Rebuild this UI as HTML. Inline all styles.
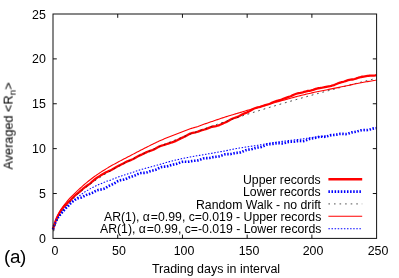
<!DOCTYPE html>
<html><head><meta charset="utf-8"><title>chart</title>
<style>
html,body{margin:0;padding:0;background:#fff}
body{width:399px;height:278px;position:relative;overflow:hidden;font-family:"Liberation Sans",sans-serif;color:#000}
.t{will-change:transform;position:absolute;white-space:nowrap;line-height:1;font-family:"Liberation Sans",sans-serif}
</style></head><body>
<svg width="399" height="278" viewBox="0 0 399 278" style="position:absolute;left:0;top:0">
<rect x="0" y="0" width="399" height="278" fill="#fff"/>
<path d="M53.00,229.42 L54.29,224.78 L55.59,221.09 L56.88,217.98 L58.18,215.36 L59.47,212.96 L60.77,210.76 L62.06,208.95 L63.36,207.38 L64.65,205.98 L65.94,204.67 L67.24,203.33 L68.53,201.89 L69.83,200.96 L71.12,199.53 L72.42,198.10 L73.71,196.75 L75.00,195.51 L76.30,194.39 L77.59,193.34 L78.89,192.30 L80.18,191.24 L81.48,190.13 L82.77,188.99 L84.07,187.90 L85.36,186.88 L86.65,185.95 L87.95,185.04 L89.24,184.10 L90.54,183.09 L91.83,181.99 L93.13,180.84 L94.42,179.72 L95.72,178.68 L97.01,177.75 L98.30,176.91 L99.60,176.13 L100.89,175.35 L102.19,174.54 L103.48,173.72 L104.78,172.95 L106.07,172.27 L107.36,171.69 L108.66,171.16 L109.95,170.63 L111.25,170.02 L112.54,169.32 L113.84,168.53 L115.13,167.72 L116.43,166.95 L117.72,166.24 L119.01,165.59 L120.31,164.98 L121.60,164.34 L122.90,163.65 L124.19,162.94 L125.49,162.24 L126.78,161.60 L128.08,161.05 L129.37,160.57 L130.66,160.09 L131.96,159.56 L133.25,158.93 L134.55,158.20 L135.84,157.42 L137.14,156.66 L138.43,155.98 L139.72,155.38 L141.02,154.82 L142.31,154.26 L143.61,153.65 L144.90,153.01 L146.20,152.37 L147.49,151.78 L148.79,151.29 L150.08,150.87 L151.37,150.44 L152.67,149.96 L153.96,149.39 L155.26,148.72 L156.55,147.99 L157.85,147.26 L159.14,146.59 L160.44,146.01 L161.73,145.61 L163.02,145.25 L164.32,144.88 L165.61,144.47 L166.91,144.02 L168.20,143.58 L169.50,143.17 L170.79,142.73 L172.08,142.33 L173.38,141.92 L174.67,141.43 L175.97,140.84 L177.26,140.19 L178.56,139.52 L179.85,138.87 L181.15,138.25 L182.44,137.65 L183.73,137.05 L185.03,136.40 L186.32,135.70 L187.62,134.96 L188.91,134.26 L190.21,133.66 L191.50,133.24 L192.80,132.93 L194.09,132.66 L195.38,132.37 L196.68,132.01 L197.97,131.58 L199.27,131.10 L200.56,130.64 L201.86,130.22 L203.15,129.86 L204.44,129.50 L205.74,129.10 L207.03,128.62 L208.33,128.10 L209.62,127.58 L210.92,127.12 L212.21,126.75 L213.51,126.49 L214.80,126.28 L216.09,126.05 L217.39,125.75 L218.68,125.35 L219.98,124.80 L221.27,124.20 L222.57,123.61 L223.86,123.05 L225.16,122.50 L226.45,121.91 L227.74,121.25 L229.04,120.53 L230.33,119.78 L231.63,119.07 L232.92,118.47 L234.22,118.01 L235.51,117.59 L236.80,117.14 L238.10,116.60 L239.39,115.97 L240.69,115.27 L241.98,114.57 L243.28,113.93 L244.57,113.41 L245.87,112.94 L247.16,112.41 L248.45,111.79 L249.75,111.07 L251.04,110.28 L252.34,109.50 L253.63,108.80 L254.93,108.24 L256.22,107.80 L257.52,107.47 L258.81,107.20 L260.10,106.86 L261.40,106.44 L262.69,105.98 L263.99,105.53 L265.28,105.12 L266.58,104.76 L267.87,104.39 L269.16,103.98 L270.46,103.48 L271.75,102.90 L273.05,102.30 L274.34,101.74 L275.64,101.28 L276.93,100.90 L278.23,100.57 L279.52,100.23 L280.81,99.83 L282.11,99.35 L283.40,98.81 L284.70,98.28 L285.99,97.79 L287.29,97.36 L288.58,96.95 L289.88,96.51 L291.17,96.01 L292.46,95.42 L293.76,94.80 L295.05,94.22 L296.35,93.75 L297.64,93.39 L298.94,93.11 L300.23,92.88 L301.52,92.62 L302.82,92.30 L304.11,91.94 L305.41,91.57 L306.70,91.25 L308.00,90.99 L309.29,90.76 L310.59,90.52 L311.88,90.20 L313.17,89.82 L314.47,89.37 L315.76,88.92 L317.06,88.53 L318.35,88.24 L319.65,88.04 L320.94,87.88 L322.24,87.71 L323.53,87.48 L324.82,87.19 L326.12,86.87 L327.41,86.56 L328.71,86.30 L330.00,86.07 L331.30,85.80 L332.59,85.48 L333.88,85.06 L335.18,84.54 L336.47,83.99 L337.77,83.45 L339.06,82.97 L340.36,82.56 L341.65,82.21 L342.95,81.87 L344.24,81.49 L345.53,81.06 L346.83,80.62 L348.12,80.21 L349.42,79.89 L350.71,79.67 L352.01,79.49 L353.30,79.29 L354.60,79.00 L355.89,78.62 L357.18,78.17 L358.48,77.71 L359.77,77.31 L361.07,77.00 L362.36,76.75 L363.66,76.53 L364.95,76.35 L366.24,76.15 L367.54,75.95 L368.83,75.77 L370.13,75.66 L371.42,75.61 L372.72,75.60 L374.01,75.56 L375.31,75.41 L376.60,75.11" fill="none" stroke="#f00" stroke-width="2.3" stroke-linejoin="round"/>
<path d="M53.00,229.42 L54.29,225.14 L55.59,222.07 L56.88,219.48 L58.18,217.34 L59.47,215.52 L60.77,213.93 L62.06,212.47 L63.36,211.04 L64.65,209.55 L65.94,208.15 L67.24,206.84 L68.53,205.58 L69.83,203.99 L71.12,202.80 L72.42,201.76 L73.71,200.82 L75.00,199.84 L76.30,198.95 L77.59,198.37 L78.89,198.04 L80.18,197.81 L81.48,197.51 L82.77,197.00 L84.07,196.23 L85.36,195.48 L86.65,194.86 L87.95,194.39 L89.24,194.03 L90.54,193.64 L91.83,193.07 L93.13,192.40 L94.42,191.68 L95.72,190.97 L97.01,190.37 L98.30,189.94 L99.60,189.69 L100.89,189.53 L102.19,189.32 L103.48,188.95 L104.78,188.38 L106.07,187.63 L107.36,186.79 L108.66,186.03 L109.95,185.37 L111.25,184.79 L112.54,184.21 L113.84,183.54 L115.13,182.78 L116.43,181.97 L117.72,181.22 L119.01,180.64 L120.31,180.25 L121.60,180.00 L122.90,179.80 L124.19,179.51 L125.49,179.07 L126.78,178.50 L128.08,177.87 L129.37,177.30 L130.66,176.83 L131.96,176.45 L133.25,176.08 L134.55,175.63 L135.84,175.06 L137.14,174.43 L138.43,173.82 L139.72,173.34 L141.02,173.06 L142.31,172.95 L143.61,172.91 L144.90,172.83 L146.20,172.60 L147.49,172.23 L148.79,171.76 L150.08,171.29 L151.37,170.89 L152.67,170.58 L153.96,170.28 L155.26,169.90 L156.55,169.38 L157.85,168.73 L159.14,168.03 L160.44,167.40 L161.73,166.96 L163.02,166.74 L164.32,166.66 L165.61,166.60 L166.91,166.44 L168.20,166.12 L169.50,165.67 L170.79,165.19 L172.08,164.79 L173.38,164.51 L174.67,164.29 L175.97,164.04 L177.26,163.69 L178.56,163.21 L179.85,162.66 L181.15,162.16 L182.44,161.81 L183.73,161.66 L185.03,161.68 L186.32,161.75 L187.62,161.76 L188.91,161.64 L190.21,161.41 L191.50,161.14 L192.80,160.91 L194.09,160.77 L195.38,160.69 L196.68,160.60 L197.97,160.38 L199.27,160.00 L200.56,159.49 L201.86,158.96 L203.15,158.52 L204.44,158.26 L205.74,158.16 L207.03,158.15 L208.33,158.11 L209.62,157.97 L210.92,157.71 L212.21,157.38 L213.51,157.09 L214.80,156.88 L216.09,156.77 L217.39,156.68 L218.68,156.50 L219.98,156.16 L221.27,155.68 L222.57,155.14 L223.86,154.65 L225.16,154.32 L226.45,154.17 L227.74,154.15 L229.04,154.16 L230.33,154.09 L231.63,153.84 L232.92,153.53 L234.22,153.22 L235.51,153.00 L236.80,152.88 L238.10,152.80 L239.39,152.66 L240.69,152.36 L241.98,151.89 L243.28,151.29 L244.57,150.68 L245.87,150.17 L247.16,149.83 L248.45,149.64 L249.75,149.49 L251.04,149.28 L252.34,148.97 L253.63,148.57 L254.93,148.16 L256.22,147.81 L257.52,147.58 L258.81,147.42 L260.10,147.25 L261.40,146.96 L262.69,146.49 L263.99,145.88 L265.28,145.26 L266.58,144.73 L267.87,144.37 L269.16,144.18 L270.46,144.10 L271.75,144.02 L273.05,143.87 L274.34,143.64 L275.64,143.41 L276.93,143.24 L278.23,143.21 L279.52,143.29 L280.81,143.41 L282.11,143.45 L283.40,143.32 L284.70,143.01 L285.99,142.60 L287.29,142.21 L288.58,141.94 L289.88,141.83 L291.17,141.82 L292.46,141.82 L293.76,141.74 L295.05,141.56 L296.35,141.33 L297.64,141.12 L298.94,141.02 L300.23,141.03 L301.52,141.10 L302.82,141.11 L304.11,140.95 L305.41,140.60 L306.70,140.09 L308.00,139.54 L309.29,139.06 L310.59,138.69 L311.88,138.46 L313.17,138.27 L314.47,138.04 L315.76,137.73 L317.06,137.37 L318.35,137.03 L319.65,136.80 L320.94,136.74 L322.24,136.79 L323.53,136.86 L324.82,136.82 L326.12,136.60 L327.41,136.23 L328.71,135.78 L330.00,135.38 L331.30,135.11 L332.59,134.97 L333.88,134.90 L335.18,134.80 L336.47,134.62 L337.77,134.35 L339.06,134.08 L340.36,133.88 L341.65,133.83 L342.95,133.92 L344.24,134.05 L345.53,134.10 L346.83,133.98 L348.12,133.66 L349.42,133.21 L350.71,132.75 L352.01,132.37 L353.30,132.11 L354.60,131.92 L355.89,131.72 L357.18,131.43 L358.48,131.05 L359.77,130.63 L361.07,130.28 L362.36,130.07 L363.66,130.02 L364.95,130.09 L366.24,130.13 L367.54,130.06 L368.83,129.81 L370.13,129.42 L371.42,128.98 L372.72,128.62 L374.01,128.37 L375.31,128.22 L376.60,128.09" fill="none" stroke="#00f" stroke-width="2.6" stroke-dasharray="1.5 1.6"/>
<path d="M53.65,231.24 L54.29,228.27 L54.94,226.00 L55.59,224.08 L56.24,222.39 L56.88,220.86 L57.53,219.45 L58.18,218.14 L58.82,216.91 L59.47,215.75 L60.12,214.65 L60.77,213.59 L61.41,212.58 L62.06,211.60 L62.71,210.66 L63.36,209.75 L64.00,208.87 L64.65,208.02 L65.30,207.18 L65.94,206.37 L66.59,205.58 L67.24,204.81 L67.89,204.05 L68.53,203.31 L69.18,202.59 L69.83,201.88 L70.47,201.19 L71.12,200.50 L71.77,199.83 L72.42,199.17 L73.06,198.52 L73.71,197.89 L74.36,197.26 L75.00,196.64 L75.65,196.03 L76.30,195.43 L76.95,194.84 L77.59,194.25 L78.24,193.67 L78.89,193.10 L79.54,192.54 L80.18,191.99 L80.83,191.44 L81.48,190.89 L82.12,190.36 L82.77,189.83 L83.42,189.30 L84.07,188.78 L84.71,188.27 L85.36,187.76 L86.01,187.25 L86.65,186.76 L87.30,186.26 L87.95,185.77 L88.60,185.29 L89.24,184.81 L89.89,184.33 L90.54,183.86 L91.18,183.39 L91.83,182.92 L92.48,182.46 L93.13,182.01 L93.77,181.55 L94.42,181.11 L95.07,180.66 L95.72,180.22 L96.36,179.78 L97.01,179.34 L97.66,178.91 L98.30,178.48 L98.95,178.05 L99.60,177.63 L100.25,177.21 L100.89,176.79 L101.54,176.38 L102.19,175.96 L102.83,175.56 L103.48,175.15 L104.13,174.74 L104.78,174.34 L105.42,173.94 L106.07,173.55 L106.72,173.15 L107.36,172.76 L108.01,172.37 L108.66,171.98 L109.31,171.60 L109.95,171.22 L110.60,170.84 L111.25,170.46 L111.90,170.08 L112.54,169.71 L113.19,169.33 L113.84,168.96 L114.48,168.60 L115.13,168.23 L115.78,167.86 L116.43,167.50 L117.07,167.14 L117.72,166.78 L118.37,166.42 L119.01,166.07 L119.66,165.72 L120.31,165.36 L120.96,165.01 L121.60,164.66 L122.25,164.32 L122.90,163.97 L123.54,163.63 L124.19,163.29 L124.84,162.95 L125.49,162.61 L126.13,162.27 L126.78,161.93 L127.43,161.60 L128.08,161.26 L128.72,160.93 L129.37,160.60 L130.02,160.27 L130.66,159.95 L131.31,159.62 L131.96,159.30 L132.61,158.97 L133.25,158.65 L133.90,158.33 L134.55,158.01 L135.19,157.69 L135.84,157.37 L136.49,157.06 L137.14,156.74 L137.78,156.43 L138.43,156.12 L139.08,155.81 L139.72,155.50 L140.37,155.19 L141.02,154.88 L141.67,154.57 L142.31,154.27 L142.96,153.96 L143.61,153.66 L144.26,153.36 L144.90,153.06 L145.55,152.76 L146.20,152.46 L146.84,152.16 L147.49,151.86 L148.14,151.57 L148.79,151.27 L149.43,150.98 L150.08,150.69 L150.73,150.39 L151.37,150.10 L152.02,149.81 L152.67,149.52 L153.32,149.24 L153.96,148.95 L154.61,148.66 L155.26,148.38 L155.90,148.09 L156.55,147.81 L157.20,147.53 L157.85,147.25 L158.49,146.96 L159.14,146.68 L159.79,146.40 L160.44,146.13 L161.08,145.85 L161.73,145.57 L162.38,145.30 L163.02,145.02 L163.67,144.75 L164.32,144.47 L164.97,144.20 L165.61,143.93 L166.26,143.66 L166.91,143.39 L167.55,143.12 L168.20,142.85 L168.85,142.58 L169.50,142.31 L170.14,142.05 L170.79,141.78 L171.44,141.52 L172.08,141.25 L172.73,140.99 L173.38,140.73 L174.03,140.46 L174.67,140.20 L175.32,139.94 L175.97,139.68 L176.62,139.42 L177.26,139.16 L177.91,138.90 L178.56,138.65 L179.20,138.39 L179.85,138.13 L180.50,137.88 L181.15,137.62 L181.79,137.37 L182.44,137.12 L183.09,136.86 L183.73,136.61 L184.38,136.36 L185.03,136.11 L185.68,135.86 L186.32,135.61 L186.97,135.36 L187.62,135.11 L188.26,134.86 L188.91,134.62 L189.56,134.37 L190.21,134.12 L190.85,133.88 L191.50,133.63 L192.15,133.39 L192.80,133.14 L193.44,132.90 L194.09,132.66 L194.74,132.41 L195.38,132.17 L196.03,131.93 L196.68,131.69 L197.33,131.45 L197.97,131.21 L198.62,130.97 L199.27,130.73 L199.91,130.50 L200.56,130.26 L201.21,130.02 L201.86,129.79 L202.50,129.55 L203.15,129.31 L203.80,129.08 L204.44,128.85 L205.09,128.61 L205.74,128.38 L206.39,128.15 L207.03,127.91 L207.68,127.68 L208.33,127.45 L208.98,127.22 L209.62,126.99 L210.27,126.76 L210.92,126.53 L211.56,126.30 L212.21,126.07 L212.86,125.84 L213.51,125.62 L214.15,125.39 L214.80,125.16 L215.45,124.94 L216.09,124.71 L216.74,124.48 L217.39,124.26 L218.04,124.04 L218.68,123.81 L219.33,123.59 L219.98,123.36 L220.62,123.14 L221.27,122.92 L221.92,122.70 L222.57,122.48 L223.21,122.25 L223.86,122.03 L224.51,121.81 L225.16,121.59 L225.80,121.38 L226.45,121.16 L227.10,120.94 L227.74,120.72 L228.39,120.50 L229.04,120.28 L229.69,120.07 L230.33,119.85 L230.98,119.63 L231.63,119.42 L232.27,119.20 L232.92,118.99 L233.57,118.77 L234.22,118.56 L234.86,118.35 L235.51,118.13 L236.16,117.92 L236.80,117.71 L237.45,117.49 L238.10,117.28 L238.75,117.07 L239.39,116.86 L240.04,116.65 L240.69,116.44 L241.34,116.23 L241.98,116.02 L242.63,115.81 L243.28,115.60 L243.92,115.39 L244.57,115.18 L245.22,114.98 L245.87,114.77 L246.51,114.56 L247.16,114.35 L247.81,114.15 L248.45,113.94 L249.10,113.74 L249.75,113.53 L250.40,113.32 L251.04,113.12 L251.69,112.91 L252.34,112.71 L252.98,112.51 L253.63,112.30 L254.28,112.10 L254.93,111.90 L255.57,111.69 L256.22,111.49 L256.87,111.29 L257.52,111.09 L258.16,110.89 L258.81,110.69 L259.46,110.49 L260.10,110.29 L260.75,110.09 L261.40,109.89 L262.05,109.69 L262.69,109.49 L263.34,109.29 L263.99,109.09 L264.63,108.89 L265.28,108.69 L265.93,108.50 L266.58,108.30 L267.22,108.10 L267.87,107.91 L268.52,107.71 L269.16,107.51 L269.81,107.32 L270.46,107.12 L271.11,106.93 L271.75,106.73 L272.40,106.54 L273.05,106.34 L273.70,106.15 L274.34,105.95 L274.99,105.76 L275.64,105.57 L276.28,105.38 L276.93,105.18 L277.58,104.99 L278.23,104.80 L278.87,104.61 L279.52,104.41 L280.17,104.22 L280.81,104.03 L281.46,103.84 L282.11,103.65 L282.76,103.46 L283.40,103.27 L284.05,103.08 L284.70,102.89 L285.34,102.70 L285.99,102.51 L286.64,102.33 L287.29,102.14 L287.93,101.95 L288.58,101.76 L289.23,101.57 L289.88,101.39 L290.52,101.20 L291.17,101.01 L291.82,100.83 L292.46,100.64 L293.11,100.45 L293.76,100.27 L294.41,100.08 L295.05,99.90 L295.70,99.71 L296.35,99.53 L296.99,99.34 L297.64,99.16 L298.29,98.97 L298.94,98.79 L299.58,98.61 L300.23,98.42 L300.88,98.24 L301.52,98.06 L302.17,97.88 L302.82,97.69 L303.47,97.51 L304.11,97.33 L304.76,97.15 L305.41,96.97 L306.06,96.78 L306.70,96.60 L307.35,96.42 L308.00,96.24 L308.64,96.06 L309.29,95.88 L309.94,95.70 L310.59,95.52 L311.23,95.34 L311.88,95.16 L312.53,94.98 L313.17,94.81 L313.82,94.63 L314.47,94.45 L315.12,94.27 L315.76,94.09 L316.41,93.92 L317.06,93.74 L317.70,93.56 L318.35,93.38 L319.00,93.21 L319.65,93.03 L320.29,92.85 L320.94,92.68 L321.59,92.50 L322.24,92.33 L322.88,92.15 L323.53,91.98 L324.18,91.80 L324.82,91.63 L325.47,91.45 L326.12,91.28 L326.77,91.10 L327.41,90.93 L328.06,90.76 L328.71,90.58 L329.35,90.41 L330.00,90.24 L330.65,90.06 L331.30,89.89 L331.94,89.72 L332.59,89.54 L333.24,89.37 L333.88,89.20 L334.53,89.03 L335.18,88.86 L335.83,88.69 L336.47,88.51 L337.12,88.34 L337.77,88.17 L338.42,88.00 L339.06,87.83 L339.71,87.66 L340.36,87.49 L341.00,87.32 L341.65,87.15 L342.30,86.98 L342.95,86.81 L343.59,86.64 L344.24,86.48 L344.89,86.31 L345.53,86.14 L346.18,85.97 L346.83,85.80 L347.48,85.63 L348.12,85.47 L348.77,85.30 L349.42,85.13 L350.06,84.96 L350.71,84.80 L351.36,84.63 L352.01,84.46 L352.65,84.30 L353.30,84.13 L353.95,83.96 L354.60,83.80 L355.24,83.63 L355.89,83.47 L356.54,83.30 L357.18,83.14 L357.83,82.97 L358.48,82.81 L359.13,82.64 L359.77,82.48 L360.42,82.31 L361.07,82.15 L361.71,81.98 L362.36,81.82 L363.01,81.66 L363.66,81.49 L364.30,81.33 L364.95,81.17 L365.60,81.00 L366.24,80.84 L366.89,80.68 L367.54,80.51 L368.19,80.35 L368.83,80.19 L369.48,80.03 L370.13,79.87 L370.78,79.70 L371.42,79.54 L372.07,79.38 L372.72,79.22 L373.36,79.06 L374.01,78.90 L374.66,78.74 L375.31,78.58 L375.95,78.42 L376.60,78.26" fill="none" stroke="#222" stroke-width="0.95" stroke-dasharray="1.7 3.87"/>
<path d="M53.00,229.42 L54.29,224.73 L55.59,220.90 L56.88,217.50 L58.18,214.54 L59.47,212.18 L60.77,210.02 L62.06,208.03 L63.36,206.17 L64.65,204.40 L65.94,202.72 L67.24,201.15 L68.53,199.65 L69.83,198.23 L71.12,196.87 L72.42,195.57 L73.71,194.30 L75.00,193.07 L76.30,191.87 L77.59,190.69 L78.89,189.47 L80.18,188.26 L81.48,187.07 L82.77,185.90 L84.07,184.76 L85.36,183.66 L86.65,182.60 L87.95,181.55 L89.24,180.52 L90.54,179.50 L91.83,178.50 L93.13,177.52 L94.42,176.55 L95.72,175.63 L97.01,174.73 L98.30,173.85 L99.60,172.98 L100.89,172.13 L102.19,171.29 L103.48,170.47 L104.78,169.67 L106.07,168.88 L107.36,168.10 L108.66,167.33 L109.95,166.58 L111.25,165.83 L112.54,165.10 L113.84,164.37 L115.13,163.66 L116.43,162.95 L117.72,162.25 L119.01,161.56 L120.31,160.87 L121.60,160.19 L122.90,159.51 L124.19,158.84 L125.49,158.17 L126.78,157.50 L128.08,156.84 L129.37,156.17 L130.66,155.51 L131.96,154.82 L133.25,154.13 L134.55,153.45 L135.84,152.77 L137.14,152.09 L138.43,151.41 L139.72,150.74 L141.02,150.07 L142.31,149.40 L143.61,148.74 L144.90,148.07 L146.20,147.42 L147.49,146.77 L148.79,146.12 L150.08,145.47 L151.37,144.84 L152.67,144.20 L153.96,143.57 L155.26,142.95 L156.55,142.33 L157.85,141.72 L159.14,141.12 L160.44,140.52 L161.73,139.95 L163.02,139.40 L164.32,138.85 L165.61,138.31 L166.91,137.78 L168.20,137.25 L169.50,136.73 L170.79,136.22 L172.08,135.71 L173.38,135.21 L174.67,134.71 L175.97,134.21 L177.26,133.72 L178.56,133.23 L179.85,132.74 L181.15,132.26 L182.44,131.77 L183.73,131.29 L185.03,130.80 L186.32,130.31 L187.62,129.82 L188.91,129.33 L190.21,128.84 L191.50,128.39 L192.80,128.00 L194.09,127.63 L195.38,127.26 L196.68,126.87 L197.97,126.44 L199.27,125.96 L200.56,125.48 L201.86,125.01 L203.15,124.55 L204.44,124.09 L205.74,123.63 L207.03,123.18 L208.33,122.73 L209.62,122.28 L210.92,121.84 L212.21,121.40 L213.51,120.96 L214.80,120.52 L216.09,120.08 L217.39,119.64 L218.68,119.19 L219.98,118.75 L221.27,118.30 L222.57,117.87 L223.86,117.44 L225.16,117.02 L226.45,116.61 L227.74,116.21 L229.04,115.82 L230.33,115.43 L231.63,115.04 L232.92,114.66 L234.22,114.27 L235.51,113.89 L236.80,113.51 L238.10,113.13 L239.39,112.75 L240.69,112.36 L241.98,111.97 L243.28,111.57 L244.57,111.17 L245.87,110.77 L247.16,110.40 L248.45,110.04 L249.75,109.70 L251.04,109.36 L252.34,109.02 L253.63,108.68 L254.93,108.33 L256.22,107.97 L257.52,107.60 L258.81,107.20 L260.10,106.80 L261.40,106.41 L262.69,106.03 L263.99,105.64 L265.28,105.26 L266.58,104.89 L267.87,104.52 L269.16,104.15 L270.46,103.78 L271.75,103.41 L273.05,103.05 L274.34,102.69 L275.64,102.33 L276.93,101.97 L278.23,101.62 L279.52,101.26 L280.81,100.91 L282.11,100.56 L283.40,100.20 L284.70,99.85 L285.99,99.49 L287.29,99.14 L288.58,98.78 L289.88,98.43 L291.17,98.07 L292.46,97.71 L293.76,97.35 L295.05,96.98 L296.35,96.64 L297.64,96.30 L298.94,95.96 L300.23,95.63 L301.52,95.31 L302.82,94.99 L304.11,94.68 L305.41,94.37 L306.70,94.06 L308.00,93.77 L309.29,93.47 L310.59,93.18 L311.88,92.89 L313.17,92.61 L314.47,92.33 L315.76,92.05 L317.06,91.78 L318.35,91.51 L319.65,91.24 L320.94,90.98 L322.24,90.71 L323.53,90.45 L324.82,90.19 L326.12,89.93 L327.41,89.67 L328.71,89.41 L330.00,89.15 L331.30,88.90 L332.59,88.64 L333.88,88.38 L335.18,88.13 L336.47,87.87 L337.77,87.61 L339.06,87.35 L340.36,87.08 L341.65,86.82 L342.95,86.55 L344.24,86.28 L345.53,86.01 L346.83,85.74 L348.12,85.46 L349.42,85.18 L350.71,84.89 L352.01,84.61 L353.30,84.31 L354.60,84.01 L355.89,83.72 L357.18,83.45 L358.48,83.19 L359.77,82.95 L361.07,82.71 L362.36,82.49 L363.66,82.27 L364.95,82.05 L366.24,81.83 L367.54,81.62 L368.83,81.40 L370.13,81.18 L371.42,80.96 L372.72,80.72 L374.01,80.47 L375.31,80.22 L376.60,79.94" fill="none" stroke="#f00" stroke-width="1.1"/>
<path d="M53.00,229.42 L54.29,225.14 L55.59,222.07 L56.88,219.46 L58.18,217.29 L59.47,215.44 L60.77,213.80 L62.06,212.30 L63.36,210.83 L64.65,209.32 L65.94,207.89 L67.24,206.54 L68.53,205.25 L69.83,204.01 L71.12,202.81 L72.42,201.62 L73.71,200.48 L75.00,199.38 L76.30,198.30 L77.59,197.26 L78.89,196.24 L80.18,195.25 L81.48,194.28 L82.77,193.33 L84.07,192.42 L85.36,191.60 L86.65,190.84 L87.95,190.11 L89.24,189.39 L90.54,188.65 L91.83,187.89 L93.13,187.19 L94.42,186.53 L95.72,185.91 L97.01,185.33 L98.30,184.77 L99.60,184.24 L100.89,183.71 L102.19,183.18 L103.48,182.63 L104.78,182.07 L106.07,181.48 L107.36,181.04 L108.66,180.73 L109.95,180.38 L111.25,179.85 L112.54,179.28 L113.84,178.74 L115.13,178.21 L116.43,177.72 L117.72,177.24 L119.01,176.78 L120.31,176.33 L121.60,175.90 L122.90,175.48 L124.19,175.07 L125.49,174.67 L126.78,174.27 L128.08,173.87 L129.37,173.46 L130.66,173.06 L131.96,172.64 L133.25,172.22 L134.55,171.78 L135.84,171.33 L137.14,170.86 L138.43,170.41 L139.72,169.99 L141.02,169.58 L142.31,169.19 L143.61,168.81 L144.90,168.45 L146.20,168.09 L147.49,167.75 L148.79,167.41 L150.08,167.07 L151.37,166.74 L152.67,166.40 L153.96,166.07 L155.26,165.72 L156.55,165.37 L157.85,165.01 L159.14,164.64 L160.44,164.25 L161.73,163.85 L163.02,163.46 L164.32,163.07 L165.61,162.70 L166.91,162.34 L168.20,161.98 L169.50,161.63 L170.79,161.29 L172.08,160.96 L173.38,160.64 L174.67,160.32 L175.97,160.01 L177.26,159.71 L178.56,159.41 L179.85,159.12 L181.15,158.84 L182.44,158.56 L183.73,158.29 L185.03,158.02 L186.32,157.76 L187.62,157.51 L188.91,157.26 L190.21,157.01 L191.50,156.77 L192.80,156.53 L194.09,156.29 L195.38,156.06 L196.68,155.83 L197.97,155.60 L199.27,155.38 L200.56,155.16 L201.86,154.94 L203.15,154.72 L204.44,154.50 L205.74,154.28 L207.03,154.07 L208.33,153.85 L209.62,153.63 L210.92,153.42 L212.21,153.20 L213.51,152.98 L214.80,152.76 L216.09,152.53 L217.39,152.31 L218.68,152.08 L219.98,151.85 L221.27,151.61 L222.57,151.37 L223.86,151.13 L225.16,150.88 L226.45,150.63 L227.74,150.37 L229.04,150.11 L230.33,149.84 L231.63,149.56 L232.92,149.29 L234.22,149.03 L235.51,148.78 L236.80,148.54 L238.10,148.31 L239.39,148.09 L240.69,147.87 L241.98,147.66 L243.28,147.46 L244.57,147.26 L245.87,147.07 L247.16,146.87 L248.45,146.68 L249.75,146.49 L251.04,146.30 L252.34,146.11 L253.63,145.92 L254.93,145.72 L256.22,145.52 L257.52,145.32 L258.81,145.10 L260.10,144.88 L261.40,144.66 L262.69,144.42 L263.99,144.18 L265.28,143.93 L266.58,143.69 L267.87,143.46 L269.16,143.24 L270.46,143.02 L271.75,142.82 L273.05,142.62 L274.34,142.42 L275.64,142.24 L276.93,142.06 L278.23,141.88 L279.52,141.71 L280.81,141.55 L282.11,141.38 L283.40,141.22 L284.70,141.07 L285.99,140.91 L287.29,140.76 L288.58,140.61 L289.88,140.46 L291.17,140.31 L292.46,140.16 L293.76,140.00 L295.05,139.85 L296.35,139.69 L297.64,139.53 L298.94,139.37 L300.23,139.20 L301.52,139.03 L302.82,138.86 L304.11,138.67 L305.41,138.49 L306.70,138.29 L308.00,138.09 L309.29,137.88 L310.59,137.67 L311.88,137.49 L313.17,137.32 L314.47,137.17 L315.76,137.03 L317.06,136.90 L318.35,136.78 L319.65,136.65 L320.94,136.52 L322.24,136.39 L323.53,136.25 L324.82,136.09 L326.12,135.92 L327.41,135.73" fill="none" stroke="#00f" stroke-width="1.05" stroke-dasharray="1.5 1.6"/>
<rect x="53.0" y="14.0" width="323.6" height="224.4" fill="none" stroke="#111" stroke-width="1"/>
<path d="M53.0,193.52 h3.8 M376.6,193.52 h-3.8" stroke="#111" stroke-width="1"/>
<path d="M53.0,148.64 h3.8 M376.6,148.64 h-3.8" stroke="#111" stroke-width="1"/>
<path d="M53.0,103.76 h3.8 M376.6,103.76 h-3.8" stroke="#111" stroke-width="1"/>
<path d="M53.0,58.88 h3.8 M376.6,58.88 h-3.8" stroke="#111" stroke-width="1"/>
<path d="M117.72,238.4 v-3.8 M117.72,14.0 v3.8" stroke="#111" stroke-width="1"/>
<path d="M182.44,238.4 v-3.8 M182.44,14.0 v3.8" stroke="#111" stroke-width="1"/>
<path d="M247.16,238.4 v-3.8 M247.16,14.0 v3.8" stroke="#111" stroke-width="1"/>
<path d="M311.88,238.4 v-3.8 M311.88,14.0 v3.8" stroke="#111" stroke-width="1"/>
<path d="M328.4,179.25 H362.2" stroke="#f00" stroke-width="2.3"/>
<path d="M328.4,191.6 H362.2" stroke="#00f" stroke-width="2.6" stroke-dasharray="1.5 1.6"/>
<path d="M328.4,203.9 H362.2" stroke="#777" stroke-width="1.4" stroke-dasharray="1.6 3.97"/>
<path d="M328.4,216.3 H362.2" stroke="#f00" stroke-width="1.1"/>
<path d="M328.4,228.7 H362.2" stroke="#00f" stroke-width="1.05" stroke-dasharray="1.5 1.6"/>
</svg>
<div class="t" style="right:353.0px;top:232.90px;font-size:12.4px;">0</div>
<div class="t" style="right:353.0px;top:188.02px;font-size:12.4px;">5</div>
<div class="t" style="right:353.0px;top:143.14px;font-size:12.4px;">10</div>
<div class="t" style="right:353.0px;top:98.26px;font-size:12.4px;">15</div>
<div class="t" style="right:353.0px;top:53.38px;font-size:12.4px;">20</div>
<div class="t" style="right:353.0px;top:8.50px;font-size:12.4px;">25</div>
<div class="t" style="left:-95.4px;width:300px;text-align:center;top:245.20px;font-size:12.4px;">0</div>
<div class="t" style="left:-30.679999999999993px;width:300px;text-align:center;top:245.20px;font-size:12.4px;">50</div>
<div class="t" style="left:34.04000000000002px;width:300px;text-align:center;top:245.20px;font-size:12.4px;">100</div>
<div class="t" style="left:98.75999999999999px;width:300px;text-align:center;top:245.20px;font-size:12.4px;">150</div>
<div class="t" style="left:163.48000000000008px;width:300px;text-align:center;top:245.20px;font-size:12.4px;">200</div>
<div class="t" style="left:228.20000000000005px;width:300px;text-align:center;top:245.20px;font-size:12.4px;">250</div>
<div class="t" style="left:65.6px;width:300px;text-align:center;top:262.86px;font-size:12.45px;">Trading days in interval</div>
<div class="t" style="right:78.10000000000002px;top:173.85px;font-size:12.28px;">Upper records</div>
<div class="t" style="right:78.10000000000002px;top:186.20px;font-size:12.28px;">Lower records</div>
<div class="t" style="right:78.10000000000002px;top:198.50px;font-size:12.28px;">Random Walk - no drift</div>
<div class="t" style="right:78.10000000000002px;top:210.90px;font-size:12.28px;">AR(1), <span style="letter-spacing:0.9px">&alpha;</span>=0.99, c=0.019 - Upper records</div>
<div class="t" style="right:78.10000000000002px;top:223.30px;font-size:12.28px;">AR(1), <span style="letter-spacing:0.9px">&alpha;</span>=0.99, c=-0.019 - Lower records</div>
<div class="t" style="left:4.4px;top:247.59px;font-size:18.8px;letter-spacing:-0.3px;">(a)</div>
<div class="t" style="left:9.0px;top:126.3px;font-size:12.7px;transform:translate(-50%,-50%) rotate(-90deg);transform-origin:center">Averaged &lt;R<span style="font-size:9.8px;position:relative;top:3px">n</span>&gt;</div>
</body></html>
